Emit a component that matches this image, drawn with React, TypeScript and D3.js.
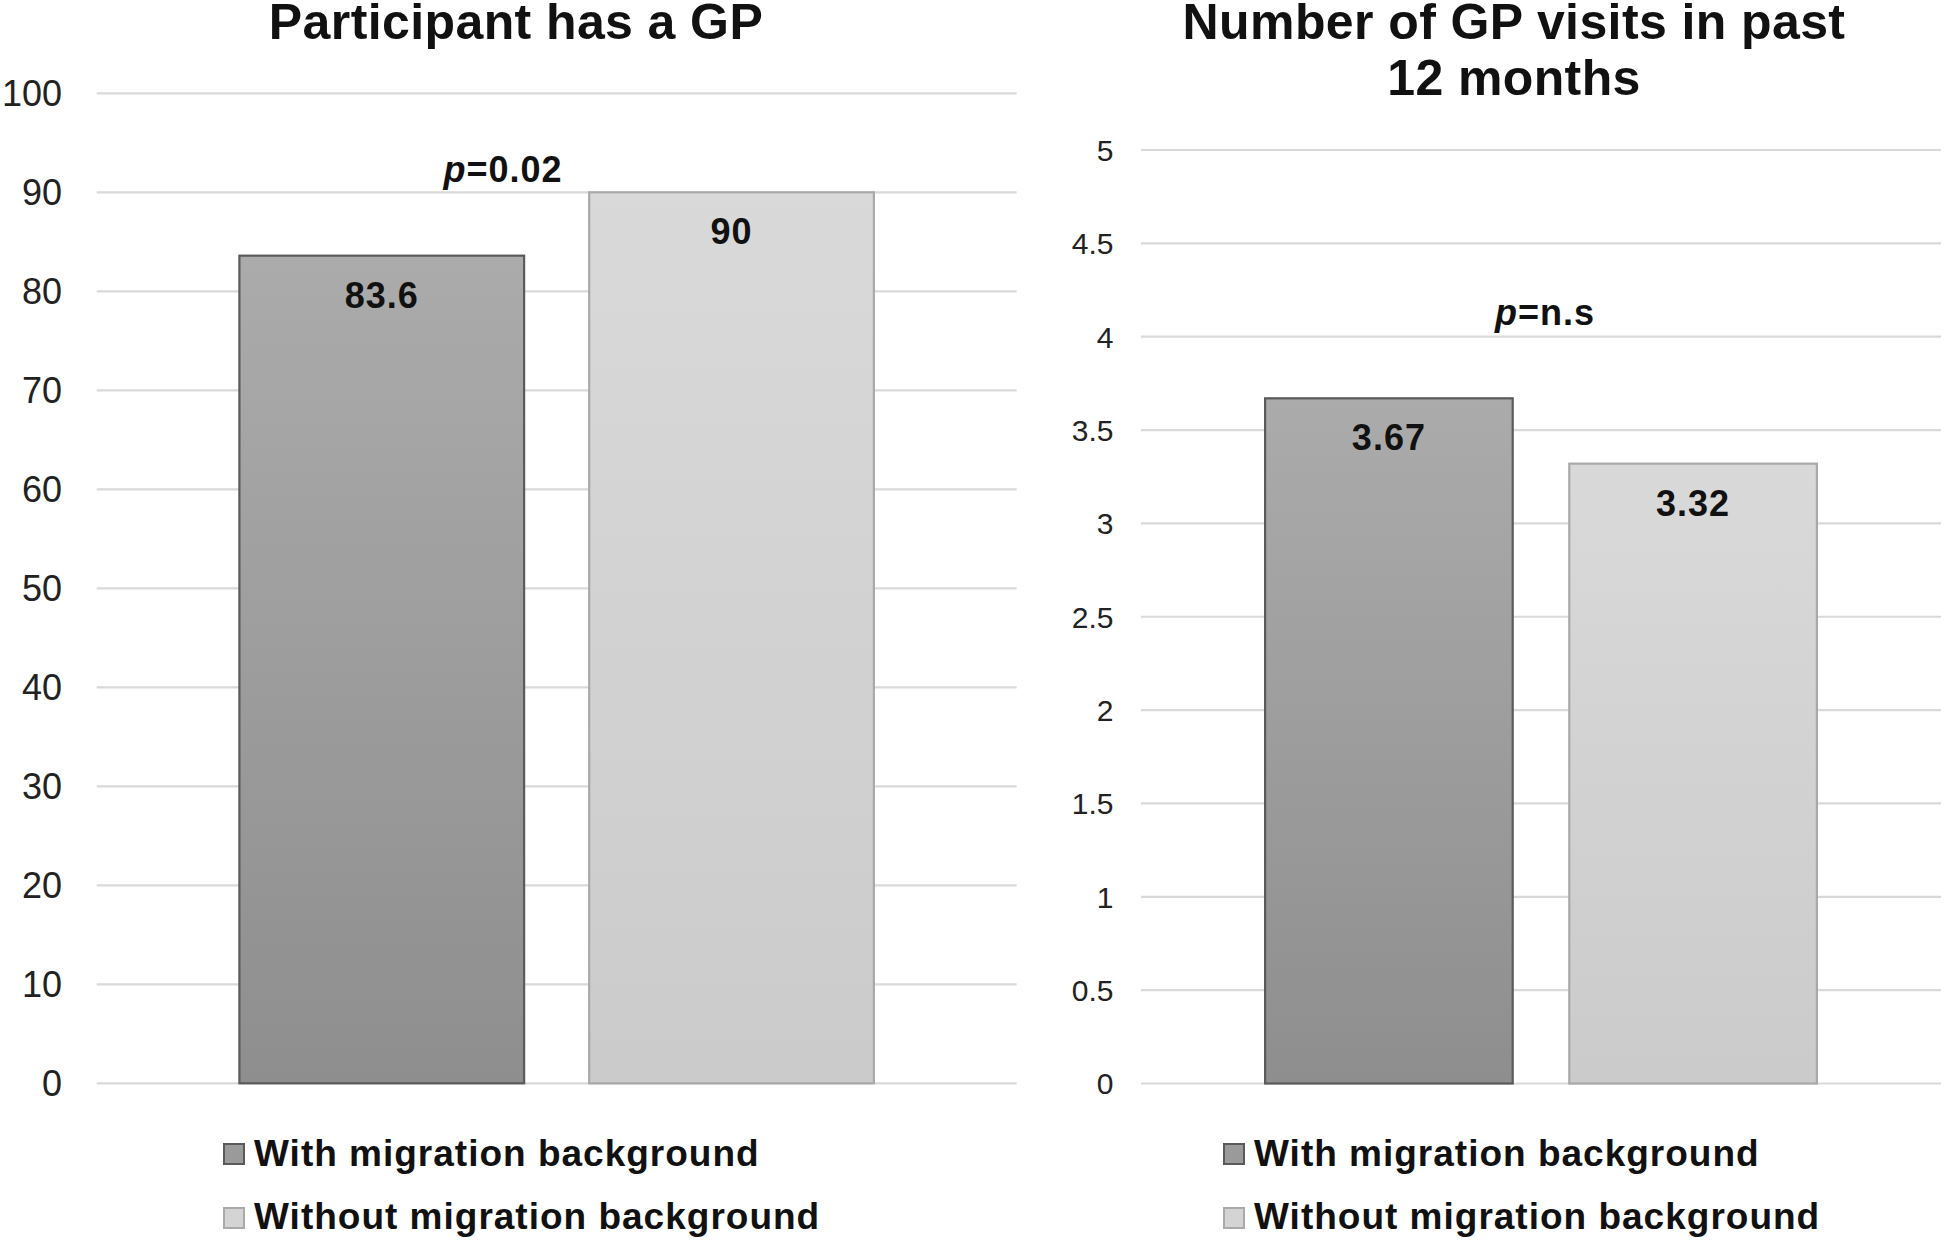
import React, { useEffect } from "react";
import * as d3 from "d3";

const categories = ["With migration background", "Without migration background"];
const hasGPValues = [83.6, 90];
const visitsValues = [3.67, 3.32];
const hasGPTicks = [0, 10, 20, 30, 40, 50, 60, 70, 80, 90, 100];
const visitsTicks = [0, 0.5, 1, 1.5, 2, 2.5, 3, 3.5, 4, 4.5, 5];
const hasGPLabels = ["83.6", "90"];
const visitsLabels = ["3.67", "3.32"];

const W = 1944;
const H = 1241;
const FONT = "'Liberation Sans', Arial, Helvetica, sans-serif";
const TEXT = "#111";

const fills = ["url(#gDark)", "url(#gLight)"];
const strokes = ["#5a5a5a", "#a9a9a9"];
const legendFills = ["#9a9a9a", "#d4d4d4"];

type PanelProps = {
  x0: number;
  x1: number;
  yTop: number;
  yBot: number;
  max: number;
  values: number[];
  labels: string[];
  ticks: number[];
  tickSize: number;
  tickRight: number;
  titleLines: string[];
  titleX: number;
  pText: string;
  pX: number;
  pY: number;
  legendX: number;
};

function Panel(p: PanelProps) {
  const y = d3.scaleLinear().domain([0, p.max]).range([p.yBot, p.yTop]);
  const x = d3
    .scaleBand<string>()
    .domain(categories)
    .range([p.x0, p.x1])
    .paddingInner(0.186)
    .paddingOuter(0.408);
  const fmt = (v: number) => d3.format("~g")(v);
  return (
    <g>
      {p.titleLines.map((t, i) => (
        <text
          key={t}
          x={p.titleX}
          y={39 + i * 56}
          textAnchor="middle"
          fontFamily={FONT}
          fontWeight="bold"
          fontSize={50}
          letterSpacing={0.4}
          fill={TEXT}
        >
          {t}
        </text>
      ))}
      {p.ticks.map((t) => (
        <g key={t}>
          <line
            x1={p.x0}
            x2={p.x1}
            y1={y(t)}
            y2={y(t)}
            stroke="#d9d9d9"
            strokeWidth={2.2}
          />
          <text
            x={p.tickRight}
            y={y(t)}
            dy="0.36em"
            textAnchor="end"
            fontFamily={FONT}
            fontSize={p.tickSize}
            fill="#222"
          >
            {fmt(t)}
          </text>
        </g>
      ))}
      {categories.map((c, i) => (
        <g key={c}>
          <rect
            x={x(c)}
            y={y(p.values[i])}
            width={x.bandwidth()}
            height={y(0) - y(p.values[i])}
            fill={fills[i]}
            stroke={strokes[i]}
            strokeWidth={2.2}
          />
          <text
            x={(x(c) as number) + x.bandwidth() / 2}
            y={y(p.values[i]) + 52}
            textAnchor="middle"
            fontFamily={FONT}
            fontWeight="bold"
            fontSize={36}
            letterSpacing={1}
            fill={TEXT}
          >
            {p.labels[i]}
          </text>
        </g>
      ))}
      <text
        x={p.pX}
        y={p.pY}
        textAnchor="middle"
        fontFamily={FONT}
        fontWeight="bold"
        fontSize={36}
        letterSpacing={1}
        fill={TEXT}
      >
        <tspan fontStyle="italic">p</tspan>
        {p.pText}
      </text>
      {categories.map((c, i) => (
        <g key={"lg" + c}>
          <rect
            x={p.legendX}
            y={1144 + i * 64}
            width={20}
            height={20}
            fill={legendFills[i]}
            stroke={strokes[i]}
            strokeWidth={2}
          />
          <text
            x={p.legendX + 30}
            y={1166 + i * 63}
            fontFamily={FONT}
            fontWeight="bold"
            fontSize={37}
            letterSpacing={1}
            fill={TEXT}
          >
            {c}
          </text>
        </g>
      ))}
    </g>
  );
}

export default function App() {
  useEffect(() => {
    document.body.style.margin = "0";
  }, []);
  return (
    <svg
      width={W}
      height={H}
      viewBox={`0 0 ${W} ${H}`}
      style={{ display: "block", position: "absolute", left: 0, top: 0, background: "#fff" }}
    >
      <defs>
        <linearGradient id="gDark" x1="0" y1="0" x2="0" y2="1">
          <stop offset="0" stopColor="#ababab" />
          <stop offset="1" stopColor="#8e8e8e" />
        </linearGradient>
        <linearGradient id="gLight" x1="0" y1="0" x2="0" y2="1">
          <stop offset="0" stopColor="#d9d9d9" />
          <stop offset="1" stopColor="#cbcbcb" />
        </linearGradient>
      </defs>
      <rect x={0} y={0} width={W} height={H} fill="#fff" />
      <Panel
        x0={96.7}
        x1={1016.6}
        yTop={93.3}
        yBot={1083.3}
        max={100}
        values={hasGPValues}
        labels={hasGPLabels}
        ticks={hasGPTicks}
        tickSize={36}
        tickRight={62}
        titleLines={["Participant has a GP"]}
        titleX={516}
        pText="=0.02"
        pX={503}
        pY={181.7}
        legendX={224}
      />
      <Panel
        x0={1141}
        x1={1941}
        yTop={150}
        yBot={1083.5}
        max={5}
        values={visitsValues}
        labels={visitsLabels}
        ticks={visitsTicks}
        tickSize={30}
        tickRight={1113.5}
        titleLines={["Number of GP visits in past", "12 months"]}
        titleX={1514}
        pText="=n.s"
        pX={1545}
        pY={325}
        legendX={1224}
      />
    </svg>
  );
}
